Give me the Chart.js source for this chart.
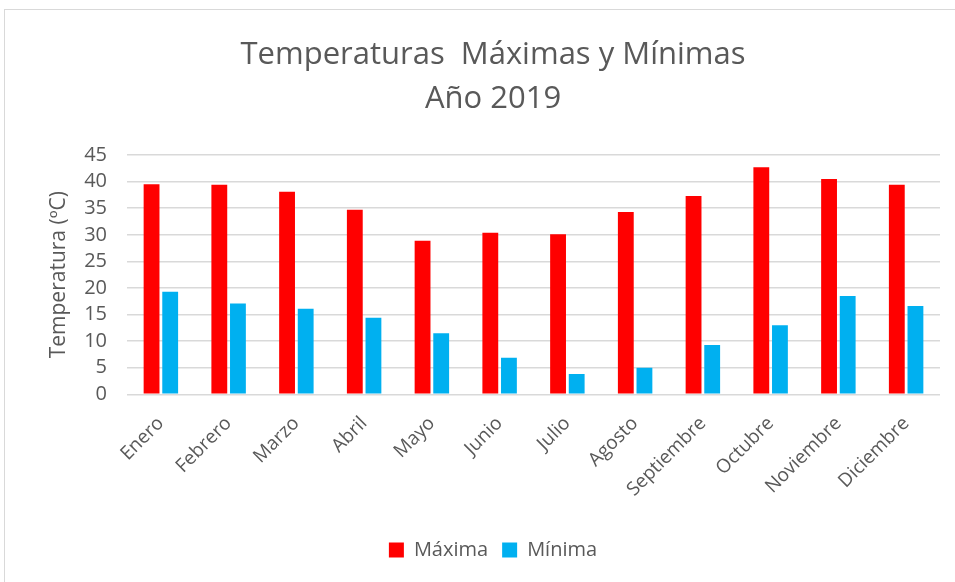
<!DOCTYPE html>
<html>
<head>
<meta charset="utf-8">
<script src="https://cdn.jsdelivr.net/npm/chart.js@4"></script>
<style>
  html, body { margin: 0; padding: 0; background: #fff; }
  #frame {
    position: absolute; left: 4px; top: 9px; width: 960px; height: 580px;
    border: 1px solid #d9d9d9; box-sizing: border-box;
  }
  #wrap { position: absolute; left: 0; top: 0; width: 955px; height: 582px; }
</style>
</head>
<body>
<div id="frame"></div>
<div id="wrap"><canvas id="tempChart"></canvas></div>
<script>
// Meses y temperaturas
const meses = ['Enero', 'Febrero', 'Marzo', 'Abril', 'Mayo', 'Junio', 'Julio',
  'Agosto', 'Septiembre', 'Octubre', 'Noviembre', 'Diciembre'];
const maximas = [39.5, 39.4, 38.1, 34.7, 28.9, 30.4, 30.1, 34.3, 37.3, 42.7, 40.5, 39.4];
const minimas = [19.3, 17.1, 16.1, 14.4, 11.5, 6.9, 3.8, 5.0, 9.3, 13.0, 18.5, 16.6];

const gris = '#595959';
const fuente = "'Open Sans', 'DejaVu Sans', sans-serif";

function createTempChart() {
  const ctx = document.getElementById('tempChart').getContext('2d');
  return new Chart(ctx, {
    type: 'bar',
    data: {
      labels: meses,
      datasets: [
        {
          label: 'Máxima',
          data: maximas,
          backgroundColor: '#FF0000',
          categoryPercentage: 0.55,
          barPercentage: 0.85
        },
        {
          label: 'Mínima',
          data: minimas,
          backgroundColor: '#00B0F0',
          categoryPercentage: 0.55,
          barPercentage: 0.85
        }
      ]
    },
    options: {
      responsive: true,
      maintainAspectRatio: false,
      animation: false,
      layout: { padding: { left: 46, right: 15, top: 33, bottom: 12 } },
      plugins: {
        title: {
          display: true,
          text: ['Temperaturas  Máximas y Mínimas', 'Año 2019'],
          color: gris,
          font: { family: fuente, size: 31, weight: 'normal', lineHeight: 1.42 },
          padding: { top: 0, bottom: 34 }
        },
        legend: {
          position: 'bottom',
          labels: {
            color: gris,
            boxWidth: 15,
            boxHeight: 15,
            font: { family: fuente, size: 20 },
            padding: 14
          }
        },
        tooltip: { enabled: false }
      },
      scales: {
        x: {
          grid: { display: false },
          border: { display: false },
          // espacio extra entre las etiquetas y la leyenda
          afterFit: (axis) => { axis.height += 15; },
          ticks: {
            color: gris,
            minRotation: 45,
            maxRotation: 45,
            padding: 10,
            autoSkip: false,
            font: { family: fuente, size: 19 }
          }
        },
        y: {
          min: 0,
          max: 45,
          afterFit: (axis) => { axis.width = 81; },
          ticks: {
            stepSize: 5,
            autoSkip: false,
            color: gris,
            padding: 20,
            font: { family: fuente, size: 20 }
          },
          grid: { color: '#d9d9d9', lineWidth: 1.5, drawTicks: false },
          border: { display: false },
          title: {
            display: true,
            text: 'Temperatura (ºC)',
            color: gris,
            font: { family: fuente, size: 21 },
            padding: { top: 0, bottom: 0 }
          }
        }
      }
    }
  });
}

document.addEventListener('DOMContentLoaded', createTempChart);
</script>
</body>
</html>
